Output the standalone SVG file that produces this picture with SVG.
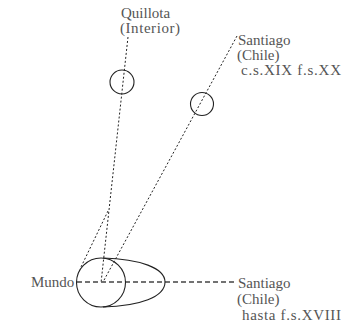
<svg xmlns="http://www.w3.org/2000/svg" width="344" height="334" viewBox="0 0 344 334">
<style>
text{font-family:"Liberation Serif","Times New Roman",serif;font-size:15px;fill:#555}
.shape{fill:none;stroke:#222;stroke-width:1.1}
.dot{fill:none;stroke:#222;stroke-width:1;stroke-dasharray:2,2}
.dash{fill:none;stroke:#444;stroke-width:1.4;stroke-dasharray:5,3}
</style>
<rect width="344" height="334" fill="#fff"/>
<g id="connectors">
<line class="dot" x1="128" y1="37" x2="101" y2="283"/>
<line class="dot" x1="108" y1="211" x2="81" y2="267"/>
<line class="dot" x1="237" y1="36" x2="103" y2="282"/>
<line class="dash" x1="77" y1="282" x2="237" y2="282"/>
</g>
<g id="mundo">
<circle class="shape" cx="101" cy="282.5" r="24.5"/>
<path class="shape" d="M103,258 C140,259 165,268 165,282 C165,297 140,306 103,307"/>
<text x="31" y="287">Mundo</text>
</g>
<g id="quillota">
<circle class="shape" cx="122" cy="82" r="12"/>
<text x="121" y="18">Quillota</text>
<text x="120" y="33" textLength="60" lengthAdjust="spacing">(Interior)</text>
</g>
<g id="santiago-xix">
<circle class="shape" cx="202" cy="104" r="11.5"/>
<text x="238" y="45">Santiago</text>
<text x="237" y="60">(Chile)</text>
<text x="241" y="75" textLength="100" lengthAdjust="spacing">c.s.XIX f.s.XX</text>
</g>
<g id="santiago-xviii">
<text x="238" y="288">Santiago</text>
<text x="237" y="304">(Chile)</text>
<text x="242" y="320" textLength="99" lengthAdjust="spacing">hasta f.s.XVIII</text>
</g>
</svg>
